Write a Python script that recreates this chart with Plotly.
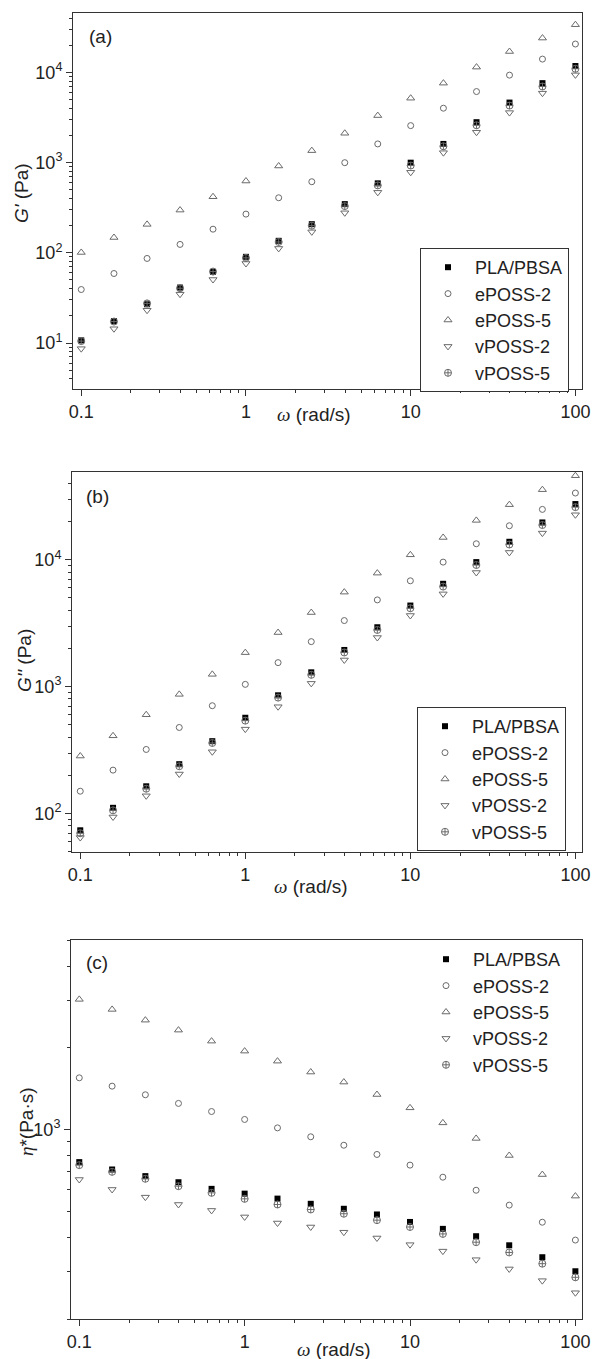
import plotly.graph_objects as go

# ---------------- data ----------------
omega = [0.1, 0.158, 0.251, 0.398, 0.631, 1.0, 1.58, 2.51, 3.98, 6.31,
         10.0, 15.8, 25.1, 39.8, 63.1, 100.0]

series_names = ["PLA/PBSA", "ePOSS-2", "ePOSS-5", "vPOSS-2", "vPOSS-5"]

# (a) storage modulus G' (Pa)
Gp_PLA = [10.7, 17.5, 26.9, 41.2, 61.5, 90.3, 136, 208, 347, 590, 1000, 1614, 2812, 4640, 7620, 11800]
Gp_e2 = [39.2, 59, 86.7, 124, 183, 269, 408, 615, 1000, 1614, 2576, 4020, 6150, 9350, 14090, 20700]
Gp_e5 = [101, 148, 207, 298, 419, 626, 919, 1360, 2120, 3330, 5190, 7620, 11480, 17100, 24100, 33900]
Gp_v2 = [8.66, 14.4, 23.1, 34.8, 50.6, 76.2, 112, 171, 278, 469, 782, 1291, 2177, 3594, 5900, 9420]
Gp_v5 = [10.5, 17.3, 27.5, 40.5, 62, 88, 132, 200, 330, 560, 930, 1520, 2600, 4300, 7000, 11000]

# (b) loss modulus G'' (Pa)
Gpp_PLA = [73.8, 111, 164, 245, 372, 569, 855, 1298, 1947, 2940, 4360, 6470, 9590, 13870, 19700, 27500]
Gpp_e2 = [150, 220, 320, 477, 708, 1043, 1547, 2265, 3320, 4830, 6830, 9590, 13380, 18550, 24960, 33600]
Gpp_e5 = [284, 410, 601, 870, 1251, 1855, 2670, 3840, 5560, 7850, 10950, 15000, 20450, 27200, 35700, 46000]
Gpp_v2 = [64.7, 94, 138, 205, 307, 463, 695, 1062, 1624, 2440, 3640, 5390, 7940, 11430, 16240, 22650]
Gpp_v5 = [70, 106, 157, 236, 360, 540, 820, 1240, 1860, 2800, 4150, 6150, 9100, 13200, 18800, 26000]

# (c) complex viscosity eta* (Pa.s)
eta_PLA = [758, 712, 673, 639, 604, 580, 556, 532, 510, 486, 456, 430, 404, 374, 338, 300]
eta_e2 = [1551, 1445, 1343, 1248, 1165, 1089, 1014, 940, 875, 809, 739, 667, 597, 526, 455, 391]
eta_e5 = [3020, 2773, 2531, 2326, 2118, 1946, 1787, 1629, 1496, 1346, 1202, 1058, 927, 802, 682, 568]
eta_v2 = [654, 601, 563, 529, 503, 476, 452, 437, 418, 398, 376, 356, 331, 306, 277, 250]
eta_v5 = [739, 698, 658, 618, 584, 555, 529, 507, 489, 463, 437, 412, 384, 352, 320, 285]

x_tick_vals = [0.1, 1, 10, 100]
x_tick_text = ["0.1", "1", "10", "100"]

# ---------------- styling ----------------
FONT = "Liberation Sans, Arial, sans-serif"
AX = "#333333"
GRAY = "#6a6a6a"

styles = [
    dict(symbol="square", size=6, color="black", line=dict(width=0, color="black")),
    dict(symbol="circle-open", size=6, color=GRAY, line=dict(width=1, color=GRAY)),
    dict(symbol="triangle-up-open", size=7, color=GRAY, line=dict(width=1, color=GRAY)),
    dict(symbol="triangle-down-open", size=7, color=GRAY, line=dict(width=1, color=GRAY)),
    dict(symbol="circle-cross-open", size=7, color=GRAY, line=dict(width=1, color=GRAY)),
]

panels = [
    ("x", "y", "legend", [Gp_PLA, Gp_e2, Gp_e5, Gp_v2, Gp_v5]),
    ("x2", "y2", "legend2", [Gpp_PLA, Gpp_e2, Gpp_e5, Gpp_v2, Gpp_v5]),
    ("x3", "y3", "legend3", [eta_PLA, eta_e2, eta_e5, eta_v2, eta_v5]),
]

fig = go.Figure()
for xa, ya, lg, data in panels:
    for name, ys, st in zip(series_names, data, styles):
        fig.add_trace(go.Scatter(x=omega, y=ys, mode="markers", name=name,
                                 marker=st, xaxis=xa, yaxis=ya, legend=lg,
                                 showlegend=True))

W, H = 593, 1359


def px_x(p):
    return p / W


def px_y(p):
    return 1 - p / H


def minor_vals(lo_exp, hi_exp):
    out = []
    for e in range(lo_exp, hi_exp + 1):
        for m in range(2, 10):
            out.append(m * 10 ** e)
    return out


def sup_label(v):
    return "10<sup>%d</sup>" % (len(str(int(v))) - 1)


x_minor = [v for v in minor_vals(-2, 2) if 0.09 < v < 110]


def xaxis_cfg(left, right, anchor):
    return dict(type="log", range=[-1.05, 2.04], domain=[px_x(left), px_x(right)],
                anchor=anchor, showline=True, linecolor=AX, linewidth=1, mirror=True,
                ticks="outside", ticklen=6, tickcolor=AX, tickwidth=1,
                tickmode="array", tickvals=x_tick_vals, ticktext=x_tick_text,
                minor=dict(tickmode="array", tickvals=x_minor, ticks="outside",
                           ticklen=3, tickcolor=AX, tickwidth=1),
                showgrid=False, zeroline=False, automargin=False,
                tickfont=dict(family=FONT, size=18, color="#222"))


def yaxis_cfg(top, bottom, rng, major, minor, anchor):
    return dict(type="log", range=rng, domain=[px_y(bottom), px_y(top)],
                anchor=anchor, showline=True, linecolor=AX, linewidth=1, mirror=True,
                ticks="outside", ticklen=6, tickcolor=AX, tickwidth=1,
                tickmode="array", tickvals=major,
                ticktext=[sup_label(v) for v in major],
                minor=dict(tickmode="array", tickvals=minor, ticks="outside",
                           ticklen=3, tickcolor=AX, tickwidth=1),
                showgrid=False, zeroline=False, automargin=False,
                tickfont=dict(family=FONT, size=18, color="#222"))


ya_minor = [v for v in minor_vals(0, 4) if 3.0 < v < 46000]
yb_minor = [v for v in minor_vals(1, 4) if 49 < v < 49000]
yc_minor = [v for v in minor_vals(2, 3) if 199 < v < 5001]

fig.update_layout(
    width=W, height=H, margin=dict(l=0, r=0, t=0, b=0),
    paper_bgcolor="white", plot_bgcolor="white",
    font=dict(family=FONT, size=18, color="#222"),
    xaxis=xaxis_cfg(73, 582, "y"),
    yaxis=yaxis_cfg(13, 389, [0.49, 4.66], [10, 100, 1000, 10000], ya_minor, "x"),
    xaxis2=xaxis_cfg(72, 582, "y2"),
    yaxis2=yaxis_cfg(472, 852, [1.697, 4.692], [100, 1000, 10000], yb_minor, "x2"),
    xaxis3=xaxis_cfg(71, 582, "y3"),
    yaxis3=yaxis_cfg(940, 1319, [2.30103, 3.69897], [1000], yc_minor, "x3"),
)

legend_common = dict(font=dict(family=FONT, size=18, color="#222"), bgcolor="white",
                     itemwidth=44, xanchor="left", yanchor="top", tracegroupgap=0)
fig.update_layout(
    legend=dict(x=px_x(420), y=px_y(248), bordercolor=AX, borderwidth=1, **legend_common),
    legend2=dict(x=px_x(417), y=px_y(707), bordercolor=AX, borderwidth=1, **legend_common),
    legend3=dict(x=px_x(419), y=px_y(941), borderwidth=0, **legend_common),
)

annots = [
    ("(a)", 100, 36, 0),
    ("(b)", 98, 497, 0),
    ("(c)", 97, 963, 0),
    ("<i>G'</i> (Pa)", 22, 193, -90),
    ("<i>G''</i> (Pa)", 24, 661, -90),
    ("<span style='font-family:Liberation Serif'><i>η</i></span>*(Pa·s)", 26, 1122, -90),
    ("<span style='font-family:Liberation Serif'><i>ω</i></span> (rad/s)", 314, 415, 0),
    ("<span style='font-family:Liberation Serif'><i>ω</i></span> (rad/s)", 311, 886, 0),
    ("<span style='font-family:Liberation Serif'><i>ω</i></span> (rad/s)", 334, 1349, 0),
]
for txt, xp, yp, ang in annots:
    fig.add_annotation(text=txt, x=px_x(xp), y=px_y(yp), xref="paper", yref="paper",
                       showarrow=False, textangle=ang, xanchor="center", yanchor="middle",
                       font=dict(family=FONT, size=19, color="#222"))

fig.write_html("out.html", config={"displayModeBar": False},
               post_script="document.body.style.margin='0';document.body.style.overflow='hidden';")
